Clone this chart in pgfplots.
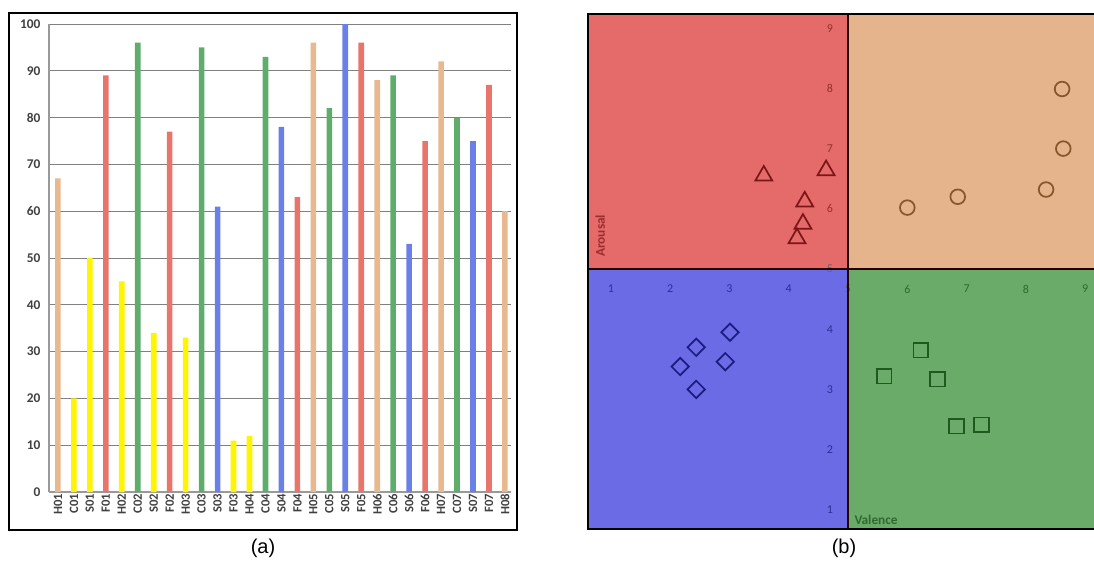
\documentclass[border=0pt]{standalone}
\usepackage{pgfplots}
\pgfplotsset{compat=1.18}
\usepackage{fontspec}
\setmainfont{Carlito}
\newfontfamily\arial{Liberation Sans}
\definecolor{tanc}{HTML}{E8B98E}
\definecolor{yelc}{HTML}{FFF500}
\definecolor{redc}{HTML}{E8746C}
\definecolor{grnc}{HTML}{5FAD6A}
\definecolor{bluc}{HTML}{6A80E8}
\definecolor{qred}{HTML}{E56A6A}
\definecolor{qtan}{HTML}{E5B38C}
\definecolor{qblu}{HTML}{6B6BE6}
\definecolor{qgrn}{HTML}{6AAB6A}
\definecolor{mred}{HTML}{7A1616}
\definecolor{mtan}{HTML}{85572A}
\definecolor{mblu}{HTML}{1C1C80}
\definecolor{mgrn}{HTML}{1E5A1E}
\definecolor{lred}{HTML}{9A2E2E}
\definecolor{lblu}{HTML}{2E2E9A}
\definecolor{lgrn}{HTML}{2E6A2E}
\begin{document}
\begin{tikzpicture}
\path[use as bounding box] (0,0) rectangle (820.5pt,421.5pt);
% ---------- (a) bar chart ----------
\draw[line width=2pt] (6.75pt,24pt) rectangle (387.75pt,411.75pt);
\begin{axis}[
  at={(36.75pt,52.5pt)}, anchor=south west,
  scale only axis, width=346.5pt, height=351pt,
  xmin=-0.56, xmax=28.38, ymin=0, ymax=100,
  ytick={0,10,...,100},
  xtick={0,...,28},
  xticklabels={H01,C01,S01,F01,H02,C02,S02,F02,H03,C03,S03,F03,H04,C04,S04,F04,H05,C05,S05,F05,H06,C06,S06,F06,H07,C07,S07,F07,H08},
  ymajorgrids, grid style={black!50, line width=0.6pt},
  axis x line*=bottom, axis y line*=left,
  axis line style={black!40, line width=0.8pt},
  major tick length=0pt,
  /pgf/number format/assume math mode=true,
  x tick label style={rotate=90, anchor=east, font=\bfseries\fontsize{9.5}{10}\selectfont, text=black!75, inner sep=1pt},
  y tick label style={font=\bfseries\fontsize{10}{10}\selectfont, text=black!75, xshift=-3pt},
  bar/.style={ybar, bar width=4.2pt, bar shift=0pt, draw=none},
]
\addplot[bar, fill=tanc] coordinates {(0,67) (16,96) (20,88) (24,92) (28,60)};
\addplot[bar, fill=yelc] coordinates {(1,20) (2,50) (4,45) (6,34) (8,33) (11,11) (12,12)};
\addplot[bar, fill=redc] coordinates {(3,89) (7,77) (15,63) (19,96) (23,75) (27,87)};
\addplot[bar, fill=grnc] coordinates {(5,96) (9,95) (13,93) (17,82) (21,89) (25,80)};
\addplot[bar, fill=bluc] coordinates {(10,61) (14,78) (18,100) (22,53) (26,75)};
\end{axis}
\node[font=\arial\fontsize{15}{15}\selectfont] at (197.25pt,10.5pt) {(a)};
% ---------- (b) valence/arousal ----------
\begin{axis}[
  at={(441pt,24.75pt)}, anchor=south west,
  scale only axis, width=381pt, height=386.25pt,
  xmin=0.6155, xmax=9.182, ymin=0.681, ymax=9.236,
  xtick=\empty, ytick=\empty,
  axis on top,
  axis line style={line width=1.5pt, black},
]
\fill[qred] (axis cs:0.6155,5) rectangle (axis cs:5,9.236);
\fill[qtan] (axis cs:5,5) rectangle (axis cs:9.182,9.236);
\fill[qblu] (axis cs:0.6155,0.681) rectangle (axis cs:5,5);
\fill[qgrn] (axis cs:5,0.681) rectangle (axis cs:9.182,5);
\pgfplotsinvokeforeach{1,2,3,4}{\node[font=\fontsize{9}{9}\selectfont, text=lblu] at (axis cs:#1,5) [yshift=-15pt] {#1};}
\pgfplotsinvokeforeach{6,7,8,9}{\node[font=\fontsize{9}{9}\selectfont, text=lgrn] at (axis cs:#1,5) [yshift=-15pt] {#1};}
\node[font=\fontsize{9}{9}\selectfont, text=black!60] at (axis cs:5,5) [yshift=-15pt] {5};
\pgfplotsinvokeforeach{6,7,8,9}{\node[font=\fontsize{9}{9}\selectfont, text=lred] at (axis cs:5,#1) [xshift=-13.5pt] {#1};}
\pgfplotsinvokeforeach{1,2,3,4}{\node[font=\fontsize{9}{9}\selectfont, text=lblu] at (axis cs:5,#1) [xshift=-13.5pt] {#1};}
\node[font=\fontsize{9}{9}\selectfont, text=black!60] at (axis cs:5,5) [xshift=-13.5pt] {5};
\draw[line width=1.5pt, black!85!red] (axis cs:0.6155,5) -- (axis cs:9.182,5);
\draw[line width=1.5pt, black!85!red] (axis cs:5,0.681) -- (axis cs:5,9.236);
\node[font=\bfseries\fontsize{10}{10}\selectfont, text=lred, rotate=90] at (axis cs:0.82,5.55) {Arousal};
\node[font=\bfseries\fontsize{10}{10}\selectfont, text=lgrn, anchor=west] at (axis cs:5.03,0.83) {Valence};
\addplot[only marks, mark=triangle, mark size=7.3pt, color=mred, line width=1.3pt]
  coordinates {(3.58,6.55) (4.63,6.64) (4.27,6.12) (4.24,5.75) (4.14,5.51)};
\addplot[only marks, mark=o, mark size=5.5pt, color=mtan, line width=1.3pt]
  coordinates {(8.61,7.99) (8.63,7.0) (8.34,6.32) (6.85,6.2) (6.0,6.02)};
\addplot[only marks, mark=square, mark size=4.6pt, color=mblu, line width=1.3pt, mark options={rotate=45}]
  coordinates {(3.01,3.95) (2.44,3.70) (2.17,3.38) (2.93,3.46) (2.44,3.0)};
\addplot[only marks, mark=square, mark size=5.5pt, color=mgrn, line width=1.3pt]
  coordinates {(6.23,3.65) (5.61,3.22) (6.51,3.17) (6.83,2.39) (7.25,2.41)};
\end{axis}
\node[font=\arial\fontsize{15}{15}\selectfont] at (633pt,10.5pt) {(b)};
\end{tikzpicture}
\end{document}
